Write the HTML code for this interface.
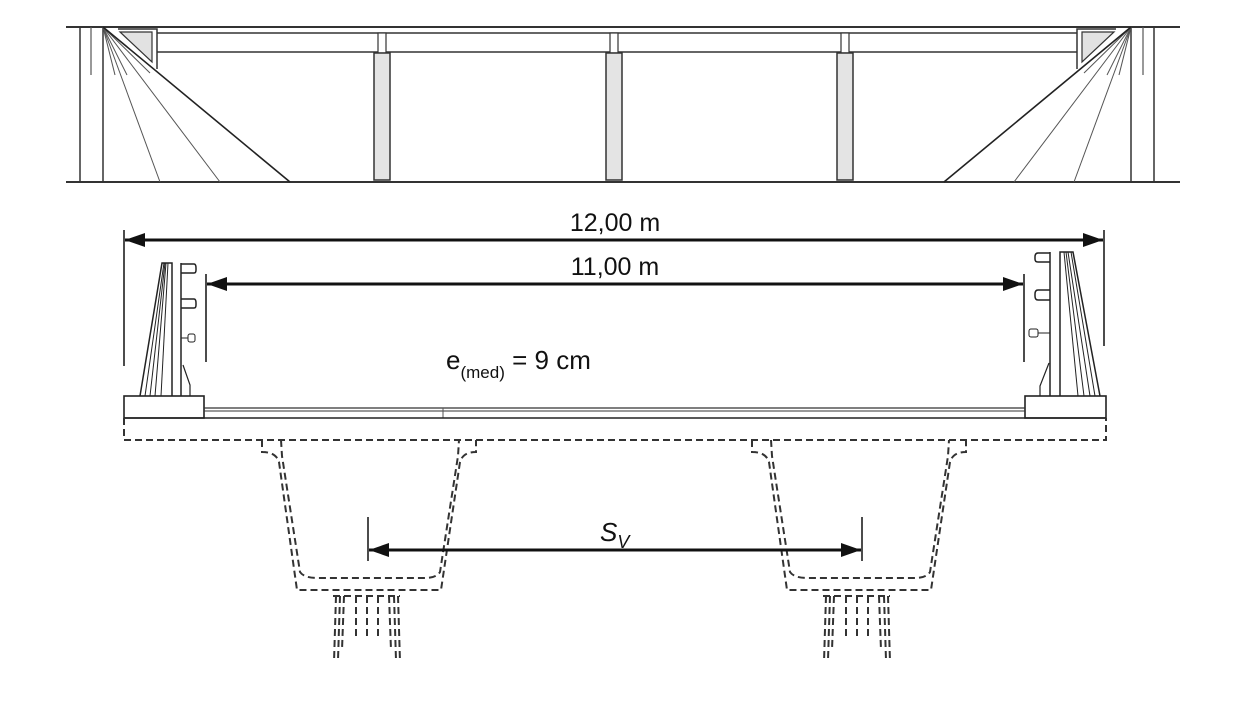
<!DOCTYPE html>
<html><head><meta charset="utf-8"><style>
html,body{margin:0;padding:0;background:#fff;}
svg{display:block;}
text{font-family:"Liberation Sans",sans-serif;fill:#111;}
</style></head><body>
<svg width="1242" height="710" viewBox="0 0 1242 710" xmlns="http://www.w3.org/2000/svg">
<defs>
<marker id="ah2" markerWidth="20" markerHeight="14" refX="20" refY="7" orient="auto-start-reverse" markerUnits="userSpaceOnUse"><path d="M0,0 L20,7 L0,14 Z" fill="#111"/></marker>
<g id="endL">
<line x1="80" y1="27" x2="80" y2="182" stroke="#333" stroke-width="1.5"/>
<line x1="103" y1="27" x2="103" y2="182" stroke="#333" stroke-width="1.5"/>
<line x1="91" y1="27" x2="91" y2="75" stroke="#555" stroke-width="1.2"/>
<g stroke="#555" stroke-width="1">
<line x1="103" y1="27" x2="160" y2="182"/>
<line x1="103" y1="27" x2="220" y2="182"/>
<line x1="103" y1="27" x2="115" y2="75"/>
<line x1="103" y1="27" x2="127" y2="75"/>
<line x1="103" y1="27" x2="150" y2="73"/>
</g>
<path d="M120,32 L152,32 L152,62 Z" fill="#e2e2e2" stroke="#333" stroke-width="1.2"/>
<path d="M118,29 L157,29 L157,69" fill="none" stroke="#333" stroke-width="1.5"/>
<line x1="103" y1="27" x2="290" y2="182" stroke="#222" stroke-width="1.6"/>
</g>
<g id="pier">
<rect x="0" y="33" width="8" height="20" fill="#fff" stroke="#333" stroke-width="1.2"/>
<rect x="-4" y="53" width="16" height="127" fill="#e4e4e4" stroke="#333" stroke-width="1.5"/>
</g>
<g id="girder" fill="none" stroke="#333" stroke-width="2" stroke-dasharray="7,4">
<path d="M262,440 L262,452 Q276,452 279,462 L297,590 L441,590 L460,462 Q463,452 476,452 L476,440"/>
<path d="M281,440 L282,456 L300,572 Q304,578 318,578 L425,578 Q436,578 440,572 L458,456 L459,440"/>
<path d="M333,596 L400,596"/>
<path d="M336,596 L334,662 M344,596 L342,650 M356,596 L356,640 M367,596 L367,640 M378,596 L378,640 M389,596 L391,650 M398,596 L400,662"/>
<path d="M340,596 L338,660 M394,596 L396,660"/>
</g>
</defs>

<line x1="66" y1="27" x2="1180" y2="27" stroke="#333" stroke-width="2"/>
<line x1="66" y1="182" x2="1180" y2="182" stroke="#333" stroke-width="2"/>
<line x1="157" y1="33" x2="1077" y2="33" stroke="#333" stroke-width="1.5"/>
<line x1="157" y1="52" x2="1077" y2="52" stroke="#333" stroke-width="1.5"/>
<use href="#endL"/>
<use href="#endL" transform="translate(1234,0) scale(-1,1)"/>
<use href="#pier" transform="translate(378,0)"/>
<use href="#pier" transform="translate(610,0)"/>
<use href="#pier" transform="translate(841,0)"/>

<line x1="124" y1="230" x2="124" y2="366" stroke="#111" stroke-width="1.5"/>
<line x1="1104" y1="230" x2="1104" y2="346" stroke="#111" stroke-width="1.5"/>
<line x1="125" y1="240" x2="1103" y2="240" stroke="#111" stroke-width="3" marker-start="url(#ah2)" marker-end="url(#ah2)"/>
<text x="615" y="231" font-size="25" text-anchor="middle">12,00 m</text>
<line x1="206" y1="274" x2="206" y2="362" stroke="#111" stroke-width="1.5"/>
<line x1="1024" y1="274" x2="1024" y2="362" stroke="#111" stroke-width="1.5"/>
<line x1="207" y1="284" x2="1023" y2="284" stroke="#111" stroke-width="3" marker-start="url(#ah2)" marker-end="url(#ah2)"/>
<text x="615" y="275" font-size="25" text-anchor="middle">11,00 m</text>
<text x="446" y="369" font-size="26">e<tspan font-size="17" dy="9">(med)</tspan><tspan dy="-9"> = 9 cm</tspan></text>

<rect x="124" y="396" width="80" height="22" fill="#fff" stroke="#222" stroke-width="1.6"/>
<rect x="1025" y="396" width="81" height="22" fill="#fff" stroke="#222" stroke-width="1.6"/>
<line x1="204" y1="408" x2="1025" y2="408" stroke="#333" stroke-width="1.3"/>
<line x1="204" y1="411" x2="1025" y2="411" stroke="#333" stroke-width="1"/>
<line x1="443" y1="408" x2="443" y2="418" stroke="#555" stroke-width="1"/>
<line x1="124" y1="418" x2="1106" y2="418" stroke="#222" stroke-width="1.6"/>
<path d="M124,418 L124,440 L1106,440 L1106,418" fill="none" stroke="#333" stroke-width="2" stroke-dasharray="7,4"/>

<g stroke="#222" fill="none" stroke-width="1.5">
<path d="M140,396 L162,263 L172,263 L172,396"/>
<line x1="145" y1="396" x2="164" y2="263" stroke-width="1"/>
<line x1="150" y1="396" x2="165" y2="263" stroke-width="1"/>
<line x1="155" y1="396" x2="166" y2="263" stroke-width="1"/>
<line x1="161" y1="396" x2="168" y2="263" stroke-width="1"/>
<line x1="181" y1="263" x2="181" y2="396"/>
<path d="M181,264 L194,264 Q196,264 196,268 L196,270 Q196,273 194,273 L181,273"/>
<path d="M181,299 L194,299 Q196,299 196,303 L196,305 Q196,308 194,308 L181,308"/>
<rect x="188" y="334" width="7" height="8" rx="2" stroke-width="1"/>
<line x1="181" y1="338" x2="188" y2="338" stroke-width="1"/>
<path d="M183,365 L190,385 L190,396" stroke-width="1.2"/>
</g>
<g stroke="#222" fill="none" stroke-width="1.5">
<path d="M1100,396 L1073,252 L1060,252 L1060,396"/>
<line x1="1095" y1="396" x2="1071" y2="252" stroke-width="1"/>
<line x1="1090" y1="396" x2="1068" y2="252" stroke-width="1"/>
<line x1="1084" y1="396" x2="1066" y2="252" stroke-width="1"/>
<line x1="1078" y1="396" x2="1064" y2="252" stroke-width="1"/>
<line x1="1050" y1="252" x2="1050" y2="396"/>
<path d="M1050,253 L1038,253 Q1035,253 1035,257 L1035,259 Q1035,262 1038,262 L1050,262"/>
<path d="M1050,290 L1038,290 Q1035,290 1035,294 L1035,296 Q1035,300 1038,300 L1050,300"/>
<rect x="1029" y="329" width="9" height="8" rx="2" stroke-width="1"/>
<line x1="1038" y1="333" x2="1050" y2="333" stroke-width="1"/>
<path d="M1049,363 L1040,386 L1040,396" stroke-width="1.2"/>
</g>

<use href="#girder"/>
<use href="#girder" transform="translate(490,0)"/>

<line x1="368" y1="517" x2="368" y2="561" stroke="#111" stroke-width="1.5"/>
<line x1="862" y1="517" x2="862" y2="561" stroke="#111" stroke-width="1.5"/>
<line x1="369" y1="550" x2="861" y2="550" stroke="#111" stroke-width="3" marker-start="url(#ah2)" marker-end="url(#ah2)"/>
<text x="600" y="541" font-size="26" font-style="italic">S<tspan font-size="18" dy="7">V</tspan></text>
</svg>
</body></html>
